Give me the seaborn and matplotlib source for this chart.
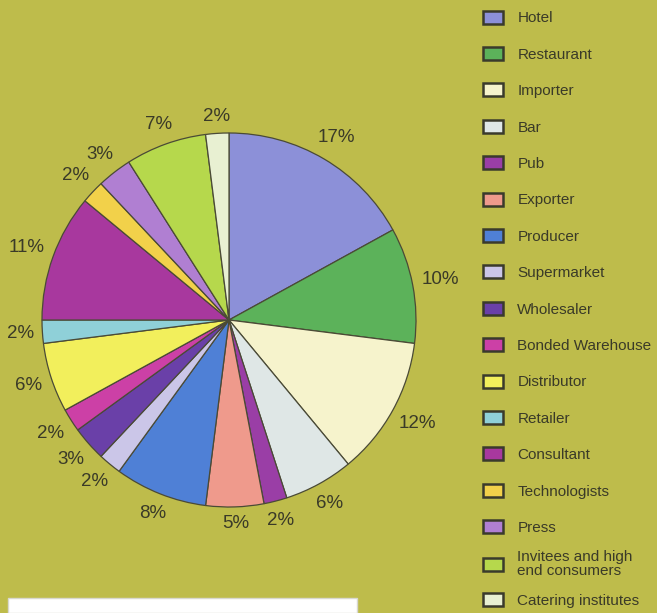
import numpy as np
import matplotlib
matplotlib.use("Agg")
import matplotlib.pyplot as plt
import seaborn as sns
from matplotlib.patches import Patch, Rectangle

categories = ["Hotel", "Restaurant", "Importer", "Bar", "Pub", "Exporter", "Producer",
              "Supermarket", "Wholesaler", "Bonded Warehouse", "Distributor", "Retailer",
              "Consultant", "Technologists", "Press", "Invitees and high\nend consumers",
              "Catering institutes"]
shares = [17, 10, 12, 6, 2, 5, 8, 2, 3, 2, 6, 2, 11, 2, 3, 7, 2]
colors = ["#8c90d8", "#5cb25a", "#f6f3cc", "#dfe7e6", "#9a3ea6", "#ef9a8c", "#4f80d6",
          "#cbc6e8", "#6a40a8", "#cc40a6", "#f2ef5c", "#8fd0d8", "#a8389e", "#f2d14a",
          "#b07fd2", "#b6d84c", "#e8f0d2"]
pct_labels = [f"{v}%" for v in shares]

BG = "#bebc4b"
EDGE = "#4a4a36"
TXT = "#3a3a28"

sns.set_theme(style="white")
plt.rcParams["font.family"] = ["Liberation Sans", "DejaVu Sans"]

W, H = 657, 613
fig = plt.figure(figsize=(W / 100, H / 100), dpi=100)
fig.patch.set_facecolor(BG)

cx, cy, R = 229, 320, 187
ax = fig.add_axes([(cx - R) / W, (H - cy - R) / H, 2 * R / W, 2 * R / H])
ax.set_facecolor("none")
wedges, texts = ax.pie(shares, labels=pct_labels, colors=colors, startangle=90,
                       counterclock=False, labeldistance=1.1,
                       wedgeprops=dict(edgecolor=EDGE, linewidth=0.9),
                       textprops=dict(fontsize=13.5, color=TXT))
ax.set_xlim(-1, 1)
ax.set_ylim(-1, 1)
ax.set_aspect("equal")
ax.axis("off")

# place labels just outside the rim, centred
renderer = fig.canvas.get_renderer()
gap = 8 / R
for t in texts:
    x, y = t.get_position()
    d = np.hypot(x, y)
    ux, uy = x / d, y / d
    t.set_ha("center")
    t.set_va("center")
    bb = t.get_window_extent(renderer)
    hw, hh = bb.width / 2 / R, bb.height / 2 / R
    dist = 1 + gap + abs(ux) * hw + abs(uy) * hh
    t.set_position((ux * dist, uy * dist))
    t.set_clip_on(False)

# legend, one row per category
lx = 483 / W
y0, step = 18, 36.4
for i, (w, lab) in enumerate(zip(wedges, categories)):
    h = Patch(facecolor=w.get_facecolor(), edgecolor="#3a3a2c", linewidth=1.8)
    leg = fig.legend(handles=[h], labels=[lab], loc="center left",
                     bbox_to_anchor=(lx, 1 - (y0 + i * step) / H),
                     frameon=False, borderpad=0, borderaxespad=0,
                     handlelength=1.3, handleheight=0.92, handletextpad=0.95,
                     prop=dict(family=["Liberation Sans Narrow", "Liberation Sans"], size=11))
    for t in leg.get_texts():
        t.set_color(TXT)
        t.set_linespacing(0.95)

fig.add_artist(Rectangle((8 / W, 0), 349 / W, 15 / H, transform=fig.transFigure,
                         facecolor="white", edgecolor="#d8d8d0", linewidth=1))

fig.savefig("out.png", dpi=100, facecolor=BG)
